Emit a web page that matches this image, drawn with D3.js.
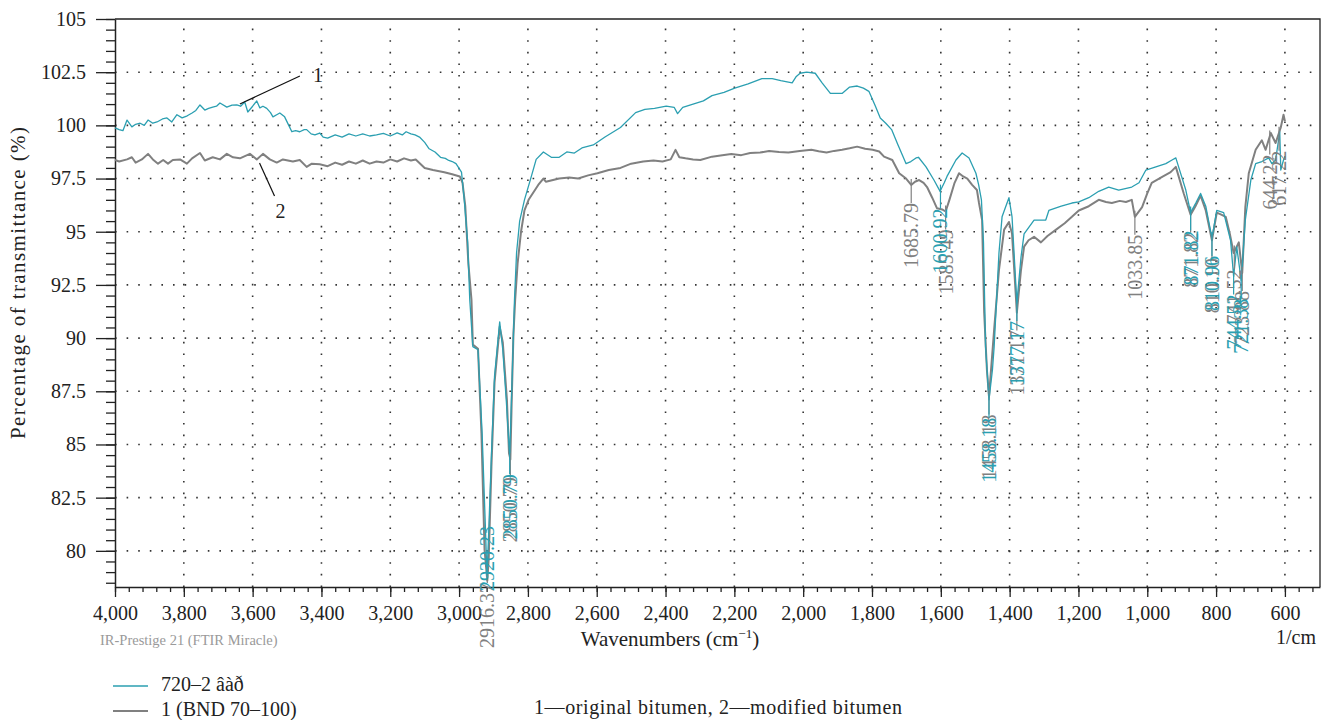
<!DOCTYPE html>
<html>
<head>
<meta charset="utf-8">
<script src="https://cdn.jsdelivr.net/npm/d3@7"></script>
<style>
  body { margin: 0; background: #fff; }
  text { font-family: "Liberation Serif", "Times New Roman", serif; }
</style>
</head>
<body>
<div id="chart"></div>
<script>
// Spectrum 1: 720-2 (teal), [wavenumber, transmittance %]
const spectrumTeal = [
  [4000, 99.88], [3988, 99.8], [3977, 99.75], [3965, 100.25], [3951, 99.93], [3940, 100.05], [3927, 100.1],
  [3915, 100.0], [3904, 100.25], [3890, 100.1], [3878, 100.16], [3862, 100.3], [3849, 100.35], [3835, 100.16],
  [3820, 100.5], [3805, 100.35], [3790, 100.45], [3776, 100.58], [3765, 100.7], [3753, 100.96], [3739, 100.72],
  [3728, 100.8], [3716, 100.86], [3705, 100.9], [3695, 101.05], [3675, 100.86], [3660, 100.95], [3646, 100.96],
  [3635, 100.9], [3623, 101.1], [3614, 100.63], [3600, 100.9], [3588, 101.15], [3579, 100.82], [3570, 100.9],
  [3559, 100.8], [3548, 100.6], [3541, 100.4], [3530, 100.5], [3521, 100.58], [3507, 100.4], [3495, 100.0],
  [3486, 99.7], [3475, 99.75], [3463, 99.7], [3450, 99.8], [3443, 99.8], [3430, 99.6], [3419, 99.55],
  [3405, 99.64], [3395, 99.45], [3382, 99.4], [3360, 99.55], [3340, 99.45], [3320, 99.6], [3300, 99.5],
  [3280, 99.6], [3260, 99.5], [3240, 99.55], [3220, 99.62], [3200, 99.5], [3180, 99.65], [3165, 99.55],
  [3154, 99.7], [3140, 99.6], [3128, 99.55], [3115, 99.45], [3100, 99.2], [3087, 98.9], [3070, 98.75],
  [3054, 98.5], [3040, 98.45], [3030, 98.35], [3020, 98.3], [3009, 98.2], [2993, 97.8], [2985, 96.5],
  [2975, 94.5], [2969, 91.8], [2960, 89.6], [2945, 89.45], [2933, 85.5], [2923, 80.85], [2919, 78.8],
  [2914, 80.85], [2906, 84.5], [2897, 88.2], [2882, 90.76], [2873, 89.45], [2863, 87.1], [2853, 84.45],
  [2847, 87.5], [2839, 91.8], [2833, 94.0], [2824, 95.5], [2810, 96.5], [2790, 97.6], [2776, 98.4],
  [2755, 98.75], [2732, 98.5], [2709, 98.5], [2687, 98.75], [2665, 98.7], [2643, 98.94], [2610, 99.08],
  [2576, 99.45], [2531, 99.9], [2487, 100.6], [2460, 100.75], [2432, 100.8], [2398, 100.9], [2375, 100.85],
  [2365, 100.55], [2350, 100.85], [2320, 101.0], [2290, 101.15], [2265, 101.4], [2230, 101.55], [2199, 101.75],
  [2160, 101.95], [2120, 102.2], [2090, 102.2], [2065, 102.1], [2032, 102.0], [2020, 102.3], [2009, 102.45],
  [1990, 102.5], [1965, 102.45], [1945, 102.0], [1921, 101.5], [1887, 101.5], [1865, 101.8], [1843, 101.85],
  [1825, 101.75], [1809, 101.6], [1790, 100.9], [1776, 100.35], [1760, 100.1], [1743, 99.8], [1725, 99.1],
  [1709, 98.5], [1701, 98.2], [1687, 98.3], [1672, 98.47], [1665, 98.5], [1643, 98.05], [1620, 97.43],
  [1602, 96.9], [1590, 97.3], [1582, 97.6], [1556, 98.37], [1538, 98.7], [1518, 98.47], [1498, 97.75],
  [1490, 97.2], [1482, 96.5], [1476, 94.5], [1470, 89.6], [1460, 87.1], [1450, 88.5], [1445, 89.6],
  [1431, 94.0], [1422, 95.7], [1402, 96.6], [1393, 95.7], [1379, 91.65], [1367, 93.8], [1358, 94.9],
  [1329, 95.55], [1295, 95.55], [1286, 96.0], [1250, 96.2], [1219, 96.35], [1199, 96.4], [1170, 96.6],
  [1141, 96.9], [1112, 97.1], [1083, 96.96], [1045, 97.1], [1024, 97.3], [1004, 97.9], [975, 98.05],
  [946, 98.2], [928, 98.37], [917, 98.47], [908, 98.0], [888, 96.96], [874, 95.9], [859, 96.35],
  [845, 96.8], [830, 96.2], [812, 94.7], [798, 96.0], [778, 95.9], [758, 94.6], [749, 92.9], [740, 94.3],
  [727, 92.7], [715, 95.55], [699, 97.43], [685, 98.2], [667, 98.3], [647, 98.47], [638, 98.2], [627, 98.37],
  [615, 99.7], [612, 97.9], [604, 98.37], [600, 98.5]
]

// Spectrum 2: 1 (BND 70-100) (gray)
const spectrumGray = [
  [4000, 98.37], [3988, 98.3], [3965, 98.4], [3951, 98.5], [3940, 98.25], [3922, 98.4], [3904, 98.66],
  [3890, 98.4], [3875, 98.2], [3860, 98.37], [3846, 98.2], [3832, 98.37], [3811, 98.4], [3791, 98.2],
  [3776, 98.45], [3753, 98.7], [3739, 98.35], [3716, 98.5], [3695, 98.4], [3675, 98.66], [3657, 98.5],
  [3637, 98.45], [3608, 98.66], [3588, 98.4], [3570, 98.66], [3550, 98.4], [3530, 98.25], [3512, 98.4],
  [3483, 98.3], [3463, 98.37], [3443, 98.05], [3428, 98.2], [3405, 98.17], [3382, 98.08], [3360, 98.25],
  [3340, 98.15], [3320, 98.3], [3300, 98.2], [3280, 98.35], [3260, 98.2], [3240, 98.3], [3220, 98.25],
  [3200, 98.4], [3180, 98.3], [3160, 98.45], [3140, 98.35], [3126, 98.4], [3100, 98.0], [3076, 97.9],
  [3043, 97.8], [3020, 97.7], [2998, 97.6], [2990, 97.3], [2982, 96.2], [2973, 93.5], [2964, 91.8],
  [2960, 89.7], [2945, 89.5], [2935, 85.5], [2926, 80.05], [2918, 78.6], [2914, 79.6], [2906, 83.95],
  [2897, 87.9], [2882, 90.53], [2873, 89.8], [2861, 87.1], [2855, 84.6], [2851, 84.3], [2847, 87.1],
  [2842, 90.2], [2837, 91.8], [2830, 93.5], [2820, 95.0], [2810, 96.0], [2798, 96.5], [2770, 97.2],
  [2755, 97.5], [2748, 97.35], [2709, 97.5], [2680, 97.55], [2654, 97.5], [2625, 97.65], [2598, 97.75],
  [2565, 97.9], [2531, 98.0], [2500, 98.2], [2465, 98.3], [2435, 98.35], [2409, 98.3], [2385, 98.4],
  [2371, 98.85], [2360, 98.5], [2342, 98.45], [2320, 98.4], [2299, 98.37], [2265, 98.53], [2235, 98.6],
  [2209, 98.65], [2180, 98.6], [2154, 98.7], [2125, 98.72], [2099, 98.8], [2070, 98.75], [2043, 98.72],
  [2010, 98.8], [1976, 98.85], [1955, 98.78], [1932, 98.72], [1910, 98.8], [1887, 98.85], [1865, 98.92],
  [1843, 99.0], [1820, 98.9], [1798, 98.85], [1779, 98.77], [1765, 98.53], [1741, 98.37], [1721, 97.75],
  [1701, 97.5], [1686, 97.2], [1675, 97.35], [1663, 97.43], [1650, 97.3], [1640, 97.1], [1625, 96.6],
  [1611, 96.1], [1596, 96.05], [1586, 95.95], [1575, 96.5], [1560, 97.3], [1547, 97.75], [1535, 97.6],
  [1523, 97.5], [1509, 97.2], [1495, 96.96], [1489, 96.35], [1480, 95.55], [1474, 91.2], [1466, 88.5],
  [1460, 87.25], [1445, 90.4], [1431, 93.2], [1416, 95.1], [1402, 95.46], [1393, 94.9], [1379, 91.2],
  [1367, 93.2], [1358, 94.3], [1345, 94.6], [1329, 94.76], [1309, 94.5], [1290, 94.8], [1265, 95.1],
  [1240, 95.4], [1219, 95.7], [1199, 96.0], [1170, 96.2], [1141, 96.5], [1120, 96.4], [1103, 96.35],
  [1080, 96.45], [1062, 96.4], [1045, 96.5], [1036, 95.7], [1015, 96.16], [1000, 96.8], [987, 97.3],
  [958, 97.57], [932, 97.8], [917, 98.05], [905, 97.4], [894, 96.8], [874, 95.8], [860, 96.2], [845, 96.7],
  [830, 96.0], [812, 94.6], [798, 95.9], [785, 95.8], [772, 95.7], [760, 94.9], [749, 94.0], [734, 94.5],
  [724, 93.06], [715, 96.16], [705, 97.75], [685, 98.85], [667, 99.3], [656, 98.85], [641, 99.64],
  [627, 99.17], [612, 99.9], [604, 100.5], [600, 100.2]
]

// Peak labels [wavenumber, label]
const peaksTeal = [
  [2919, "2920.23"], [2853, "2850.79"], [1601, "1600.92"], [1460, "1458.18"], [1379, "1377.17"],
  [874, "871.82"], [812, "810.96"], [749, "744.52"], [727, "721.38"]
]
const peaksGray = [
  [2918, "2916.37"], [2851, "2850.79"], [1686, "1685.79"], [1586, "1585.49"], [1460, "1458.18"],
  [1379, "1371.17"], [1036, "1033.85"], [874, "871.82"], [812, "810.10"], [747, "741.52"],
  [724, "723.88"], [644, "644.22"], [617, "617.22"]
]

const xMajorTicks = d3.range(4000, 599, -200)
const xMinorTicks = d3.range(4000, 510, -40)
const yMajorTicks = d3.range(0, 11).map((k) => 80 + k * 2.5)
const yMinorTicks = d3.range(157, 211).map((k) => k / 2)

const legendLabels = ["720\u20132 \u00e2\u00e0\u00f0", "1 (BND 70\u2013100)"]

const TEAL = "#2b9fb1"
const GRAY = "#808080"

const width = 1321
const height = 720
const plot = { left: 115, right: 1320, top: 19, bottom: 587 }

const svg = d3.select("#chart").append("svg").attr("width", width).attr("height", height)

const x = d3.scaleLinear().domain([4000, 498]).range([plot.left, plot.right])
const y = d3.scaleLinear().domain([78.3, 105]).range([plot.bottom, plot.top])

// Dotted grid
const grid = svg.append("g").attr("stroke", "#333").attr("stroke-width", 1.6).attr("stroke-dasharray", "1.6,10")
grid
  .selectAll("line.v")
  .data(xMajorTicks.slice(1))
  .enter()
  .append("line")
  .attr("x1", (d) => x(d))
  .attr("x2", (d) => x(d))
  .attr("y1", plot.bottom)
  .attr("y2", plot.top)
grid
  .selectAll("line.h")
  .data(yMajorTicks.slice(0, -1))
  .enter()
  .append("line")
  .attr("x1", plot.left)
  .attr("x2", plot.right)
  .attr("y1", (d) => y(d))
  .attr("y2", (d) => y(d))

// Frame (top + right)
svg
  .append("path")
  .attr("d", `M${plot.left},${plot.top}H${plot.right}V${plot.bottom}`)
  .attr("fill", "none")
  .attr("stroke", "#222")
  .attr("stroke-width", 1.3)

// Axes
const xMinor = svg
  .append("g")
  .attr("transform", `translate(0,${plot.bottom})`)
  .call(d3.axisBottom(x).tickValues(xMinorTicks).tickSize(5).tickFormat(""))
xMinor.select(".domain").remove()

const xAxis = svg
  .append("g")
  .attr("transform", `translate(0,${plot.bottom})`)
  .call(d3.axisBottom(x).tickValues(xMajorTicks).tickSize(10).tickSizeOuter(0).tickPadding(9).tickFormat(d3.format(",")))

const yMinor = svg
  .append("g")
  .attr("transform", `translate(${plot.left},0)`)
  .call(d3.axisLeft(y).tickValues(yMinorTicks).tickSize(9).tickFormat(""))
yMinor.select(".domain").remove()

const yAxis = svg
  .append("g")
  .attr("transform", `translate(${plot.left},0)`)
  .call(d3.axisLeft(y).tickValues(yMajorTicks).tickSize(19).tickSizeOuter(0).tickPadding(10).tickFormat(d3.format("~f")))

;[xAxis, yAxis, xMinor, yMinor].forEach((g) => {
  g.selectAll("line").attr("stroke", "#222").attr("stroke-width", 1.3)
  g.select(".domain").attr("stroke", "#222").attr("stroke-width", 1.5)
  g.selectAll("text").attr("font-size", 20).attr("fill", "#222").style("font-family", '"Liberation Serif", serif')
})

// Spectra
const line = d3
  .line()
  .x((d) => x(d[0]))
  .y((d) => y(d[1]))

svg.append("path").datum(spectrumGray).attr("d", line).attr("fill", "none").attr("stroke", GRAY).attr("stroke-width", 2).attr("stroke-linejoin", "round")
svg.append("path").datum(spectrumTeal).attr("d", line).attr("fill", "none").attr("stroke", TEAL).attr("stroke-width", 1.3).attr("stroke-linejoin", "round")

// Value of a spectrum at a given wavenumber (linear between read points)
const bis = d3.bisector((d) => -d[0]).left
function valueAt(data, w) {
  const i = Math.max(1, Math.min(data.length - 1, bis(data, -w)))
  const a = data[i - 1]
  const b = data[i]
  const t = (w - a[0]) / (b[0] - a[0])
  return a[1] + t * (b[1] - a[1])
}

// Peak labels: leader line below the peak, rotated text under it
function drawPeaks(peaks, data, color, clampBottom) {
  const g = svg.append("g")
  peaks.forEach(([w, label]) => {
    const px = x(w)
    const py = y(valueAt(data, w))
    let top = Math.min(py + 18, plot.bottom - 4)
    if (clampBottom && top + 64 > plot.bottom + 3) top = plot.bottom + 3 - 64
    g.append("line")
      .attr("x1", px)
      .attr("x2", px)
      .attr("y1", Math.min(py - 6, top))
      .attr("y2", top)
      .attr("stroke", color)
      .attr("stroke-width", 1.2)
    g.append("text")
      .attr("transform", `translate(${px},${top}) rotate(-90)`)
      .attr("text-anchor", "end")
      .attr("dy", "0.35em")
      .attr("font-size", 20)
      .attr("fill", color)
      .text(label)
  })
}
drawPeaks(peaksGray, spectrumGray, GRAY, false)
drawPeaks(peaksTeal, spectrumTeal, TEAL, true)

// Curve callouts "1" and "2"
const p1x = x(3637)
const p1y = y(valueAt(spectrumTeal, 3637))
svg.append("line").attr("x1", p1x).attr("y1", p1y - 2).attr("x2", p1x + 60).attr("y2", p1y - 30).attr("stroke", "#111").attr("stroke-width", 1.2)
svg.append("text").attr("x", p1x + 78).attr("y", p1y - 24).attr("text-anchor", "middle").attr("font-size", 20).attr("fill", "#222").text("1")

const p2x = x(3580)
const p2y = y(valueAt(spectrumGray, 3580))
svg.append("line").attr("x1", p2x).attr("y1", p2y + 6).attr("x2", p2x + 15).attr("y2", p2y + 39).attr("stroke", "#111").attr("stroke-width", 1.2)
svg.append("text").attr("x", p2x + 21).attr("y", p2y + 61).attr("text-anchor", "middle").attr("font-size", 20).attr("fill", "#222").text("2")

// Axis titles
svg
  .append("text")
  .attr("transform", `translate(25,283) rotate(-90)`)
  .attr("text-anchor", "middle")
  .attr("font-size", 21)
  .attr("textLength", 312)
  .attr("lengthAdjust", "spacing")
  .attr("fill", "#222")
  .text("Percentage of transmittance (%)")

const xt = svg.append("text").attr("x", 670).attr("y", 646).attr("text-anchor", "middle").attr("font-size", 21).attr("fill", "#222")
xt.append("tspan").text("Wavenumbers (cm")
xt.append("tspan").attr("font-size", 13).attr("dy", -8).text("\u22121")
xt.append("tspan").attr("dy", 8).text(")")

svg.append("text").attr("x", 1296).attr("y", 644).attr("text-anchor", "middle").attr("font-size", 20).attr("fill", "#222").text("1/cm")

svg.append("text").attr("x", 100).attr("y", 645).attr("font-size", 14.5).attr("fill", "#9a9a9a").text("IR-Prestige 21 (FTIR Miracle)")

// Legend
const legend = svg.append("g")
;[TEAL, GRAY].forEach((c, i) => {
  const ly = 686 + i * 25
  legend.append("line").attr("x1", 113).attr("x2", 148).attr("y1", ly).attr("y2", ly).attr("stroke", c).attr("stroke-width", i === 0 ? 1.3 : 2)
  legend.append("text").attr("x", 161).attr("y", ly + 5).attr("font-size", 20).attr("fill", "#222").text(legendLabels[i])
})

svg
  .append("text")
  .attr("x", 718)
  .attr("y", 714)
  .attr("text-anchor", "middle")
  .attr("font-size", 20)
  .attr("textLength", 368)
  .attr("lengthAdjust", "spacing")
  .attr("fill", "#222")
  .text("1\u2014original bitumen, 2\u2014modified bitumen")
</script>
</body>
</html>
